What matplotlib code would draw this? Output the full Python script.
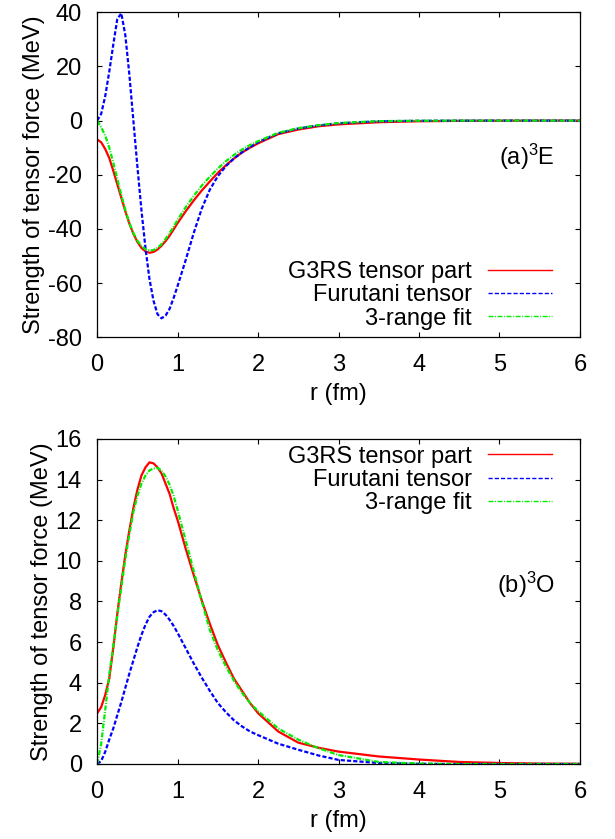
import numpy as np
import matplotlib
matplotlib.use('Agg')
import matplotlib.pyplot as plt

plt.rcParams['font.family'] = ['Liberation Sans', 'DejaVu Sans']
plt.rcParams['mathtext.fontset'] = 'custom'
plt.rcParams['mathtext.rm'] = 'Liberation Sans'
plt.rcParams['mathtext.it'] = 'Liberation Sans'
plt.rcParams['lines.scale_dashes'] = False
plt.rcParams['axes.unicode_minus'] = False

# r grid (fm), shared by all curves
r = [0, .05, .1, .15, .2, .25, .3, .35, .4, .45, .5, .55, .6, .65, .7, .75,
     .8, .85, .9, .95, 1.0, 1.1, 1.2, 1.3, 1.4, 1.5, 1.6, 1.7, 1.8, 1.9,
     2.0, 2.25, 2.5, 2.75, 3.0, 3.5, 4.0, 4.5, 5.0, 5.5, 6.0]

# (a) 3E channel
g3rs_E = [-7.0, -8.0, -10.5, -13.8, -18.5, -23.5, -28.5, -33.5, -38.0, -41.8,
          -44.8, -47.0, -48.3, -48.8, -48.5, -47.6, -46.2, -44.5, -42.5, -40.2,
          -37.8, -33.5, -29.5, -25.8, -22.5, -19.3, -16.5, -14.0, -11.8, -10.0,
          -8.4, -5.0, -3.3, -2.1, -1.4, -0.6, -0.25, -0.1, -0.04, -0.01, 0.0]
furu_E = [0.0, 2.5, 9.0, 18.0, 28.0, 37.5, 39.6, 31.5, 17.0, 0.0,
          -17.0, -33.0, -47.0, -58.5, -66.5, -71.5, -73.0, -72.0, -69.5, -65.5,
          -61.0, -51.5, -41.5, -32.5, -25.5, -20.5, -16.8, -14.0, -11.7, -9.8,
          -8.0, -4.7, -2.9, -1.8, -1.0, -0.25, -0.07, -0.02, 0.0, 0.0, 0.0]
fit_E = [0.0, -2.5, -5.5, -10.0, -15.5, -21.5, -27.5, -33.0, -37.8, -41.5,
         -44.3, -46.3, -47.5, -48.0, -47.8, -47.0, -45.6, -43.7, -41.5, -39.2,
         -36.6, -32.0, -27.8, -24.0, -20.7, -17.7, -15.0, -12.7, -10.7, -9.0,
         -7.6, -4.5, -2.8, -1.7, -0.9, -0.2, -0.05, -0.01, 0.0, 0.0, 0.0]

# (b) 3O channel
g3rs_O = [2.5, 2.8, 3.4, 4.2, 5.7, 7.4, 8.9, 10.3, 11.5, 12.6,
          13.5, 14.2, 14.6, 14.85, 14.8, 14.6, 14.3, 13.8, 13.3, 12.6,
          12.0, 10.6, 9.3, 8.05, 6.9, 5.85, 5.0, 4.2, 3.6, 3.0,
          2.5, 1.6, 1.05, 0.8, 0.61, 0.37, 0.22, 0.1, 0.05, 0.02, 0.01]
furu_O = [0.0, 0.15, 0.6, 1.2, 1.75, 2.4, 3.05, 3.75, 4.45, 5.1,
          5.75, 6.35, 6.85, 7.25, 7.47, 7.57, 7.52, 7.35, 7.1, 6.8,
          6.45, 5.7, 4.95, 4.25, 3.6, 3.0, 2.55, 2.15, 1.85, 1.6,
          1.42, 1.0, 0.7, 0.42, 0.2, 0.05, 0.01, 0.0, 0.0, 0.0, 0.0]
fit_O = [0.0, 1.0, 2.65, 4.4, 5.8, 7.3, 8.7, 10.1, 11.3, 12.4,
         13.2, 13.8, 14.2, 14.45, 14.55, 14.58, 14.45, 14.15, 13.75, 13.2,
         12.5, 11.0, 9.5, 8.0, 6.6, 5.6, 4.8, 4.1, 3.5, 3.0,
         2.6, 1.75, 1.2, 0.78, 0.44, 0.1, 0.02, 0.0, 0.0, 0.0, 0.0]

labels = ['G3RS tensor part', 'Furutani tensor', '3-range fit']
fs = 17

fig = plt.figure(figsize=(6.15, 8.39), dpi=100)
ax1 = fig.add_axes([0.158, 0.598, 0.785, 0.3874])
ax2 = fig.add_axes([0.158, 0.0894, 0.785, 0.3874])


def draw(ax, red, blue, green, ylim, yticks, tag, leg_y, tag_y):
    ax.plot(r, red, color='#ff0000', lw=1.6, label=labels[0])
    ax.plot(r, blue, color='#0000ff', lw=1.6, dashes=(3, 1.5), label=labels[1])
    ax.plot(r, green, color='#00ee00', lw=1.6, dashes=(3.6, 1.1, 0.7, 1.1),
            label=labels[2])
    ax.set_xlim(0, 6)
    ax.set_ylim(*ylim)
    ax.set_xticks(range(0, 7))
    ax.set_yticks(yticks)
    ax.tick_params(direction='in', top=True, right=True, length=3.5,
                   width=0.8, labelsize=fs)
    ax.tick_params(axis='x', pad=12)
    ax.tick_params(axis='y', pad=11)
    for s in ax.spines.values():
        s.set_linewidth(0.9)
    ax.set_xlabel('r (fm)', fontsize=fs, labelpad=5)
    ax.set_ylabel('Strength of tensor force (MeV)', fontsize=fs, labelpad=2)
    leg = ax.legend(loc='center right', bbox_to_anchor=(0.942, leg_y),
                    frameon=False, markerfirst=False, fontsize=fs,
                    handlelength=2.7, handletextpad=0.7, labelspacing=0.05,
                    borderpad=0, borderaxespad=0)
    for ln in leg.get_lines():
        ln.set_linewidth(1.0)
    ax.text(0.948, tag_y, tag, transform=ax.transAxes, ha='right',
            va='center', fontsize=fs)


draw(ax1, g3rs_E, furu_E, fit_E, (-80, 40), range(-80, 41, 20),
     r'(a)$^3$E', 0.129, 0.554)
draw(ax2, g3rs_O, furu_O, fit_O, (0, 16), range(0, 17, 2),
     r'(b)$^3$O', 0.874, 0.55)

fig.savefig('out.png', dpi=100)
